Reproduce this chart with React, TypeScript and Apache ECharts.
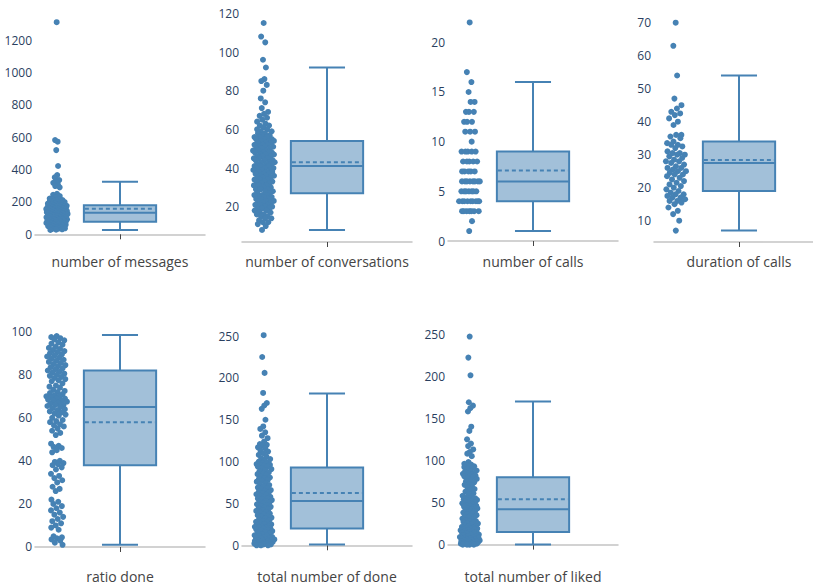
import React, { useEffect, useRef } from "react";
import * as echarts from "echarts";

const CATEGORIES = [
  "number of messages",
  "number of conversations",
  "number of calls",
  "duration of calls",
  "ratio done",
  "total number of done",
  "total number of liked",
];

const messages = [1310, 582, 572, 520, 422, 366, 352, 335, 325, 318, 305, 298, 290, 250, 244, 236, 228, 221, 218, 214, 211, 209, 206, 204, 202, 199, 197, 195, 193, 191, 189, 187, 185, 183, 182, 180,
  178, 177, 176, 174, 173, 171, 170, 168, 167, 166, 164, 162, 161, 159, 158, 156, 155, 153, 152, 150, 149, 147, 146, 144, 143, 141, 140, 139, 137, 136, 134, 133,
  132, 130, 129, 127, 126, 124, 123, 121, 119, 118, 116, 115, 113, 112, 110, 108, 107, 105, 104, 102, 100, 98, 97, 95, 93, 92, 90, 88, 86, 85, 83, 81, 79,
  77, 75, 74, 73, 71, 70, 68, 67, 66, 64, 63, 62, 60, 59, 57, 56, 54, 53, 51, 49, 48, 46, 44, 43, 41, 39, 37, 35, 33, 31, 29, 27];

const conversations = [115, 108, 105, 96, 92, 86, 85, 83, 80, 76, 74, 71, 69, 68, 67, 66, 65, 64, 63, 62, 62, 61, 60, 60, 59, 59, 58, 58, 57, 57, 56, 56, 56, 55, 55, 55, 54, 54, 54,
  53, 53, 53, 52, 52, 52, 51, 51, 51, 50, 50, 50, 49, 49, 49, 48, 48, 48, 48, 47, 47, 47, 46, 46, 46, 45, 45, 45, 44, 44, 44, 43, 43, 43, 42, 42, 42,
  41, 41, 41, 41, 40, 40, 40, 39, 39, 39, 38, 38, 38, 37, 37, 37, 36, 36, 36, 35, 35, 35, 34, 34, 34, 33, 33, 33, 32, 32, 31, 31, 31, 30, 30, 29, 29, 29, 28, 28,
  27, 27, 26, 26, 26, 25, 25, 25, 24, 24, 24, 23, 23, 23, 22, 22, 21, 21, 21, 20, 20, 19, 19, 19, 18, 18, 17, 17, 16, 16, 15, 15, 14, 14, 13, 12, 12, 11, 10, 8];

const calls = [22, 17, 16, 15, 14, 14, 13, 13, 13, 12, 12, 12, 11, 11, 11, 10, 9, 9, 9, 9, 9, 8, 8, 8, 8, 8, 7, 7, 7, 7, 7,
  6, 6, 6, 6, 6, 6, 6, 6, 5, 5, 5, 5, 5, 5, 5, 4, 4, 4, 4, 4, 4, 4, 4, 4, 3, 3, 3, 3, 3, 3, 3, 2, 1];

const duration = [70, 63, 54, 47, 45, 44, 43, 42.5, 42, 41, 40, 39, 36, 36, 35.5, 35, 34, 33.5, 33, 33, 32.5, 32, 31, 30.5, 30.5, 30, 30, 29.5, 29, 28.5,
  28, 28, 27.5, 27, 26.5, 26, 26, 25.5, 25, 25, 24.5, 24, 24, 23.5, 23, 22.5, 22, 21.5, 21, 20.5, 20, 19.5, 19, 18.5, 18, 18, 17.5, 17, 17, 16.5,
  16, 16, 15.5, 15, 14, 13, 12, 10, 7];

const ratioDone = [98, 97.5, 97, 96.5, 96, 95, 94.5, 94, 93, 92.5, 92, 91.5, 91, 90.5, 90, 89.5, 89, 88.5, 88, 87.5, 87, 86.5, 86, 85.5, 85, 84.5, 84, 83.5, 83, 82.5, 82, 81.5, 81, 80.5, 80, 79.5, 79, 78.5, 78, 77.5, 77, 76,
  75, 74.5, 74, 73, 72.5, 72, 71.5, 71, 70.5, 70, 70, 69.5, 69, 69, 68.5, 68, 68, 67.5, 67, 66.5, 66, 66, 65.5, 65, 64.5, 64, 63.5, 63, 62.5, 62, 61.5, 61,
  60, 59, 58.5, 58, 57, 56.5, 56, 55, 54, 53, 52,
  48, 47, 46.5, 46, 45, 44,
  40, 39.5, 39, 38.5, 38, 37, 36,
  34, 33, 32, 31, 30, 28, 27, 26,
  22, 21, 20, 19, 18, 17, 16, 15, 14,
  13, 12, 11, 10, 9, 8,
  5, 4.5, 4, 3.5, 3, 2, 1];

const totalDone = [251, 225, 206, 182, 170, 167, 163, 150, 142, 139, 135, 131, 128, 124, 121, 120, 119, 117, 116, 113, 112, 110, 108, 106, 104, 103, 101, 100, 99, 98, 97, 97, 96, 96, 95, 94, 94,
  92, 91, 90, 88, 87, 86, 85, 84, 82, 81, 80, 79, 78, 77, 76, 74, 73, 72, 70, 69, 68, 67, 66, 65, 64, 63, 62, 61, 60, 59, 58, 57, 56, 56, 55, 54, 53,
  52, 51, 50, 49, 48, 47, 46, 45, 44, 43, 42, 41, 40, 39, 38, 37, 36, 35, 34, 33, 32, 31, 30, 29, 28, 27, 26, 25, 25, 24, 23, 22, 22, 21, 21, 20, 20,
  19, 18, 18, 17, 16, 15, 14, 13, 12, 12, 11, 10, 10, 9, 8, 8, 7, 7, 6, 6, 5, 5, 5, 4, 4, 3, 3, 3, 2, 2, 2, 1, 1, 1, 0, 0, 0];

const totalLiked = [247, 222, 201, 169, 165, 162, 158, 140, 135, 125, 120, 117, 113, 110, 108, 105, 98, 96, 95, 94, 93, 93, 92, 91, 90, 88, 87, 86, 85, 84, 84, 83, 82, 82, 81, 81, 80.5,
  79, 78, 76, 75, 74, 72, 71, 70, 68, 66, 65, 63, 61, 60, 58, 57, 56, 55, 55, 54, 54, 53, 53, 52, 51, 50, 50, 49, 48, 47, 46, 45, 45, 44, 43, 43, 42,
  41, 40, 39, 38, 37, 36, 35, 34, 33, 33, 32, 31, 30, 29, 28, 28, 27, 26, 25, 25, 24, 23, 22, 22, 21, 20, 20, 19, 19, 18, 18, 17, 17, 16, 16, 15, 15,
  14, 14, 13, 12, 12, 11, 10, 10, 9, 9, 8, 8, 7, 7, 6, 6, 5, 5, 5, 4, 4, 4, 3, 3, 3, 2, 2, 2, 2, 1, 1, 1, 1, 0, 0, 0, 0];

const POINTS = [messages, conversations, calls, duration, ratioDone, totalDone, totalLiked];

const boxMin = [27, 8, 1, 7, 1, 1, 0];
const boxQ1 = [78, 27, 4, 19, 38, 20, 15];
const boxMedian = [133, 41, 6, 27.5, 65, 53, 42];
const boxQ3 = [179, 54, 9, 34, 82, 93, 80];
const boxMax = [325, 92, 16, 54, 98.5, 181.5, 170];
const boxMean = [158, 43, 7.1, 28.4, 58, 62.5, 54];

const yTickLabels = [
  [0, 200, 400, 600, 800, 1000, 1200],
  [20, 40, 60, 80, 100, 120],
  [0, 5, 10, 15, 20],
  [10, 20, 30, 40, 50, 60, 70],
  [0, 20, 40, 60, 80, 100],
  [0, 50, 100, 150, 200, 250],
  [0, 50, 100, 150, 200, 250],
];

// layout
const LEFTS = [35, 242, 448, 654, 35, 242, 448];
const TOPS = [12, 12, 12, 12, 324, 324, 324];
const HEIGHTS = [230, 230, 230, 230, 233, 233, 233];
const GRID_W = 170;
const YRANGES = [
  [-47.5, 1373],
  [1.75, 120.7],
  [-0.1, 23.05],
  [3.55, 73.24],
  [-4.65, 103.6],
  [-14, 264.4],
  [-14.7, 261.9],
];

const COLOR = "rgb(70,130,180)";
const FILL = "rgba(70,130,180,0.5)";
const FONT = "'Open Sans', verdana, arial, sans-serif";
const POINT_CENTER = -0.745;
const JITTER = 0.13;
const BOX_HALF = 0.425;
const CAP_HALF = 0.212;

function jitterXs(vals: number[], range: number): number[] {
  const bw = range * 0.03;
  const counts = vals.map((v) => vals.filter((w) => Math.abs(w - v) <= bw).length);
  const maxC = Math.max(...counts);
  return vals.map((_, i) => {
    const f = Math.sqrt(counts[i] / maxC);
    const u = ((i * 0.6180339887 + 0.5) % 1) * 2 - 1;
    return POINT_CENTER + JITTER * f * u;
  });
}

export default function App() {
  const ref = useRef<HTMLDivElement>(null);
  useEffect(() => {
    if (!ref.current) return;
    const chart = echarts.init(ref.current, null, { renderer: "svg" });
    const grid: any[] = [];
    const xAxis: any[] = [];
    const yAxis: any[] = [];
    const series: any[] = [];
    CATEGORIES.forEach((name, i) => {
      grid.push({ left: LEFTS[i], top: TOPS[i], width: GRID_W, height: HEIGHTS[i], containLabel: false, outerBoundsMode: "none" });
      xAxis.push({
        gridIndex: i,
        type: "value",
        min: -1,
        max: 1,
        name,
        nameLocation: "middle",
        nameGap: 12,
        nameTextStyle: { fontSize: 14, color: "#444", fontFamily: FONT, verticalAlign: "top" },
        axisLine: { show: true, lineStyle: { color: "#c4c4c4", width: 1.5 } },
        axisTick: { show: true, customValues: [0], length: 5, lineStyle: { color: "#444", width: 1 } },
        axisLabel: { show: false },
        splitLine: { show: false },
      });
      yAxis.push({
        gridIndex: i,
        type: "value",
        min: YRANGES[i][0],
        max: YRANGES[i][1],
        axisLine: { show: false },
        axisTick: { show: false },
        splitLine: { show: false },
        axisLabel: {
          customValues: yTickLabels[i],
          formatter: (v: number) => String(v),
          margin: 3,
          fontSize: 12,
          color: "#2a3f5f",
          fontFamily: FONT,
        },
      });
      const vals = POINTS[i];
      const xs = jitterXs(vals, YRANGES[i][1] - YRANGES[i][0]);
      series.push({
        type: "scatter",
        xAxisIndex: i,
        yAxisIndex: i,
        symbolSize: 6,
        silent: true,
        itemStyle: { color: COLOR, opacity: 1 },
        data: vals.map((v, k) => [xs[k], v]),
      });
      series.push({
        type: "custom",
        xAxisIndex: i,
        yAxisIndex: i,
        silent: true,
        clip: false,
        dimensions: ["x", "min", "q1", "med", "q3", "max", "mean"],
        encode: { x: 0, y: [1, 2, 3, 4, 5, 6] },
        data: [[0, boxMin[i], boxQ1[i], boxMedian[i], boxQ3[i], boxMax[i], boxMean[i]]],
        renderItem: (params: any, api: any) => {
          const x0 = api.value(0);
          const pMin = api.coord([x0, api.value(1)]);
          const pQ1 = api.coord([x0 - BOX_HALF, api.value(2)]);
          const pMed = api.coord([x0, api.value(3)]);
          const pQ3 = api.coord([x0 + BOX_HALF, api.value(4)]);
          const pMax = api.coord([x0, api.value(5)]);
          const pMean = api.coord([x0, api.value(6)]);
          const cl = api.coord([x0 - CAP_HALF, 0])[0];
          const cr = api.coord([x0 + CAP_HALF, 0])[0];
          const xl = pQ1[0];
          const xr = pQ3[0];
          const xc = pMed[0];
          const ls = { stroke: COLOR, lineWidth: 2, fill: "none" };
          return {
            type: "group",
            children: [
              { type: "rect", shape: { x: xl, y: pQ3[1], width: xr - xl, height: pQ1[1] - pQ3[1] }, style: { fill: FILL, stroke: COLOR, lineWidth: 2 } },
              { type: "line", shape: { x1: xl, y1: pMed[1], x2: xr, y2: pMed[1] }, style: ls },
              { type: "line", shape: { x1: xl + 1, y1: pMean[1], x2: xr - 1, y2: pMean[1] }, style: { ...ls, lineDash: [4, 3] } },
              { type: "line", shape: { x1: xc, y1: pQ3[1], x2: xc, y2: pMax[1] }, style: ls },
              { type: "line", shape: { x1: xc, y1: pQ1[1], x2: xc, y2: pMin[1] }, style: ls },
              { type: "line", shape: { x1: cl, y1: pMax[1], x2: cr, y2: pMax[1] }, style: ls },
              { type: "line", shape: { x1: cl, y1: pMin[1], x2: cr, y2: pMin[1] }, style: ls },
            ],
          };
        },
      });
    });
    chart.setOption({
      animation: false,
      backgroundColor: "#ffffff",
      grid,
      xAxis,
      yAxis,
      series,
    });
    return () => chart.dispose();
  }, []);
  return <div ref={ref} style={{ position: "absolute", left: 0, top: 0, width: 813, height: 585 }} />;
}
